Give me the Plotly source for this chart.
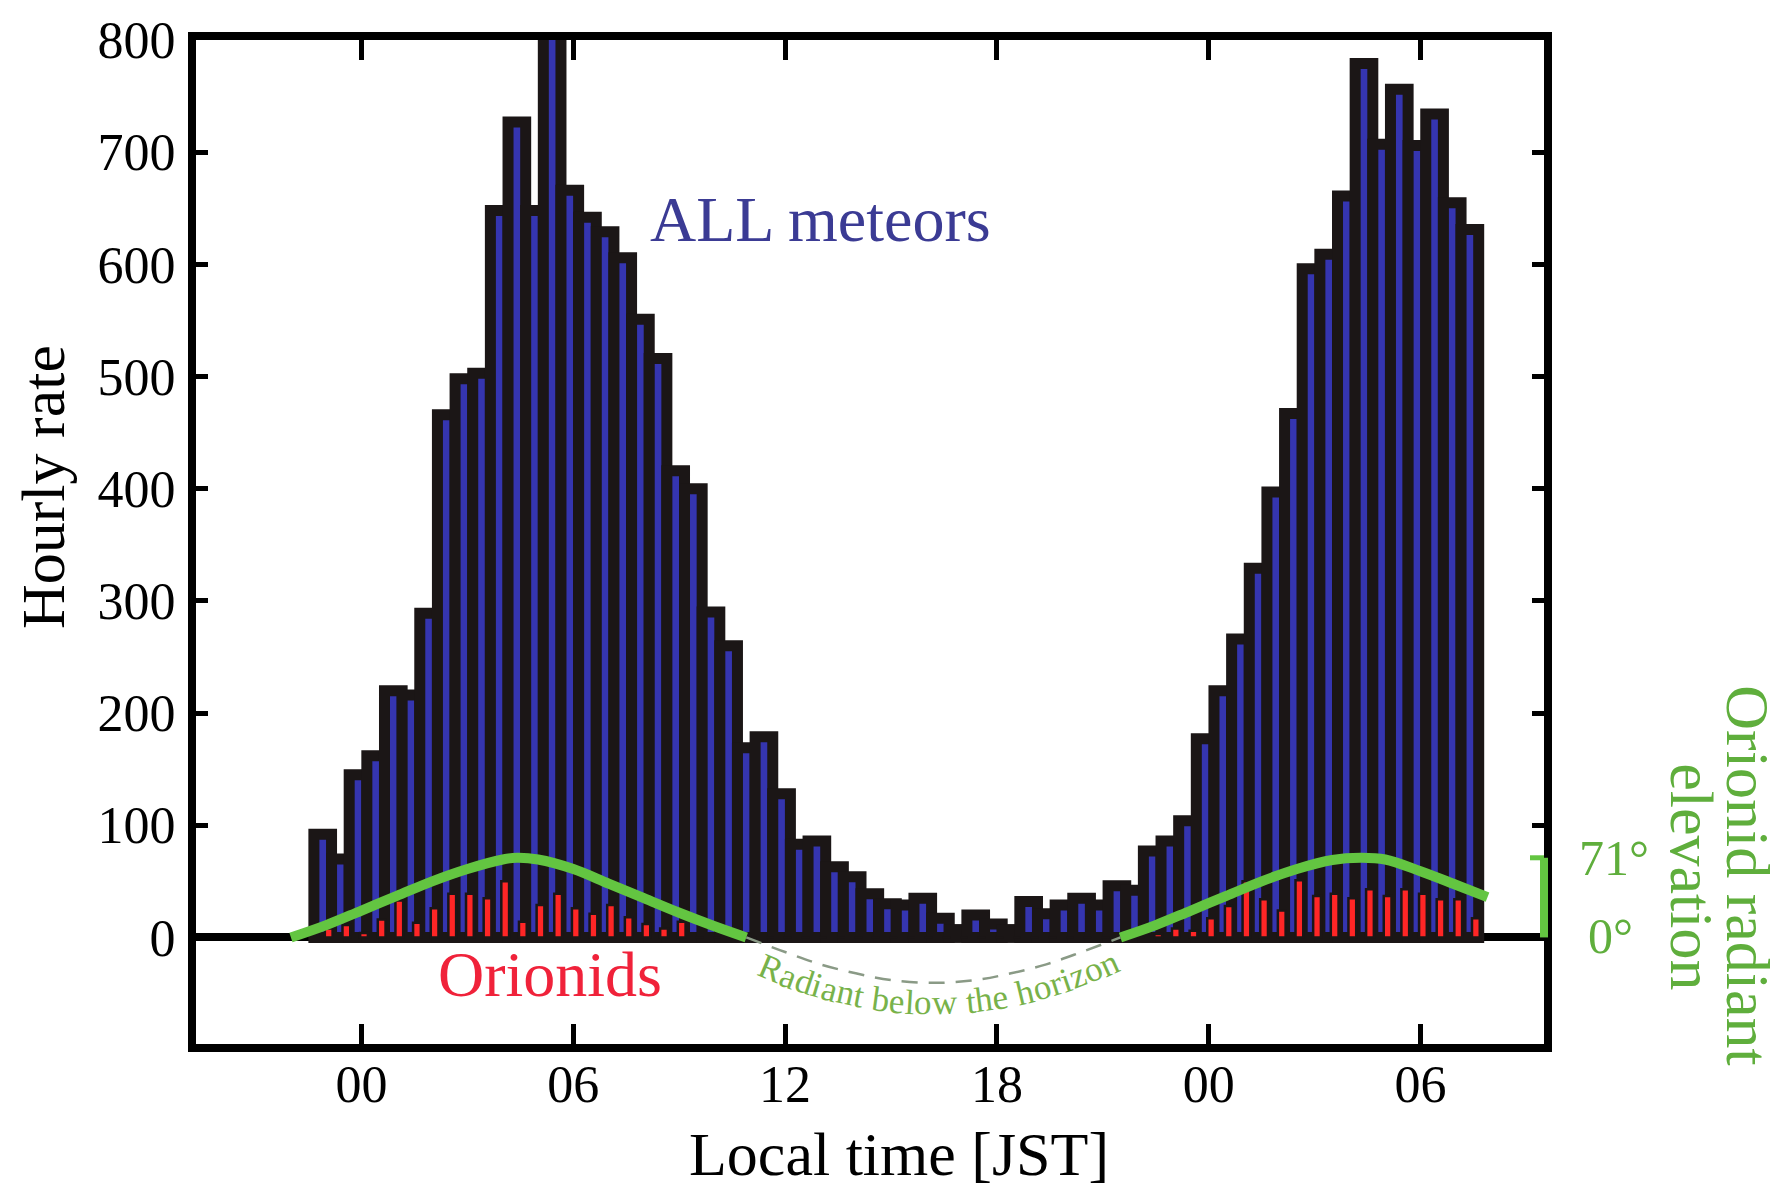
import numpy as np
import plotly.graph_objects as go

# ---------------------------------------------------------------------------
# Data: half-hour bins of local time (hours, JST; >24 = the following night)
# ---------------------------------------------------------------------------
bin_time = [-1.0 + 0.5 * i for i in range(66)]

# hourly rate of all meteors per half-hour bin
all_rate = [
    92, 70, 145, 162, 220, 216, 289, 466, 498, 503,
    648, 727, 648, 805, 666, 642, 629, 606, 551, 516,
    416, 400, 290, 260, 169, 179, 128, 83, 86, 63,
    54, 39, 30, 29, 35, 17, 7, 20, 12, 7,
    32, 21, 29, 35, 29, 46, 42, 77, 86, 104,
    177, 220, 266, 329, 397, 467, 596, 609, 661, 779,
    707, 756, 706, 734, 655, 631,
]

# hourly rate of Orionid meteors per half-hour bin
orionid_rate = [
    8, 11, 4, 16, 33, 13, 26, 39, 39, 35,
    50, 14, 29, 39, 26, 21, 29, 18, 12, 8,
    14, 0, 0, 0, 0, 0, 0, 0, 0, 0,
    0, 0, 0, 0, 0, 0, 0, 0, 0, 0,
    0, 0, 0, 0, 0, 0, 0, 3, 8, 6,
    17, 28, 50, 34, 24, 51, 37, 39, 35, 43,
    37, 43, 39, 34, 34, 17,
]

# Orionid radiant elevation (degrees), first night above the horizon
elev_night1_t = [-2.0, -1.0, 0.0, 1.0, 2.0, 3.0, 4.0, 4.4, 5.0, 6.0, 7.0, 8.0, 9.0, 10.0, 10.9]
elev_night1 = [0, 11, 24, 37, 50, 61, 69.5, 71, 69.5, 61, 48, 35, 22, 10, 0]

# radiant below the horizon during the day
elev_day_t = [10.9, 12.0, 13.0, 14.0, 15.0, 16.2, 17.4, 18.4, 19.4, 20.4, 21.5]
elev_day = [0, -13, -24, -32, -38, -40.5, -38, -32, -24, -13, 0]

# second night above the horizon
elev_night2_t = [21.5, 22.5, 23.5, 24.5, 25.5, 26.5, 27.5, 28.3, 29.0, 30.0, 31.0, 31.9]
elev_night2 = [0, 11, 24, 37, 50, 61, 69, 71, 69.5, 59, 47, 36]

x_tickvals = [0, 6, 12, 18, 24, 30]
x_ticktext = ["00", "06", "12", "18", "00", "06"]
y_tickvals = [0, 100, 200, 300, 400, 500, 600, 700, 800]

# ---------------------------------------------------------------------------
# Layout constants
# ---------------------------------------------------------------------------
W, H = 1782, 1189
ML, MR, MT, MB = 196, 238, 38, 145
X_RANGE = [-4.69, 33.50]
Y_RANGE = [-95, 800]
FONT = "Liberation Serif, Times New Roman, serif"

BLUE = "#3535b0"
EDGE = "#1b1616"
RED = "#ff2626"
GREEN = "#63c541"
GREEN_TXT = "#5fae3c"

fig = go.Figure()

# all meteors: wide bars with heavy dark outlines
fig.add_trace(go.Bar(
    x=bin_time, y=all_rate, width=0.5, offset=-0.35,
    marker=dict(color=BLUE, line=dict(color=EDGE, width=11)),
    hoverinfo="skip",
))

# Orionids: narrow bars
fig.add_trace(go.Bar(
    x=bin_time, y=orionid_rate, width=0.22, offset=-0.04,
    marker=dict(color=RED, line=dict(color=EDGE, width=2.5)),
    hoverinfo="skip",
))

# radiant elevation curve
for tx, ty in [(elev_night1_t, elev_night1), (elev_night2_t, elev_night2)]:
    fig.add_trace(go.Scatter(
        x=tx, y=ty, mode="lines",
        line=dict(color=GREEN, width=10, shape="spline"),
        hoverinfo="skip",
    ))
fig.add_trace(go.Scatter(
    x=elev_day_t, y=elev_day, mode="lines",
    line=dict(color="#8a9a86", width=2.5, dash="16px,11px", shape="spline"),
    hoverinfo="skip",
))

axis_common = dict(
    showline=True, linewidth=8, linecolor="black", mirror="ticks",
    ticks="inside", tickcolor="black", tickwidth=5,
    showgrid=False,
    tickfont=dict(family=FONT, size=52, color="black"),
)

fig.update_layout(
    width=W, height=H, autosize=False,
    margin=dict(l=ML, r=MR, t=MT, b=MB),
    paper_bgcolor="white", plot_bgcolor="white",
    barmode="overlay", showlegend=False,
    xaxis=dict(range=X_RANGE, tickvals=x_tickvals, ticktext=x_ticktext,
               ticklen=20, zeroline=False, ticklabelstandoff=-12, **axis_common),
    yaxis=dict(range=Y_RANGE, tickvals=y_tickvals, ticklen=12,
               zeroline=True, zerolinecolor="black", zerolinewidth=8,
               ticklabelstandoff=2, **axis_common),
)

plot_w = W - ML - MR
plot_h = H - MT - MB

annotations = [
    dict(text="Hourly rate", xref="paper", yref="paper",
         x=(43 - ML) / plot_w, y=1 - (486 - MT) / plot_h, textangle=-90,
         showarrow=False, xanchor="center", yanchor="middle",
         font=dict(family=FONT, size=62, color="black")),
    dict(text="Local time [JST]", xref="paper", yref="paper",
         x=(899 - ML) / plot_w, y=-(1154 - (H - MB)) / plot_h,
         showarrow=False, xanchor="center", yanchor="middle",
         font=dict(family=FONT, size=62, color="black")),
    dict(text="ALL meteors", xref="x", yref="y", x=13.0, y=640,
         showarrow=False, xanchor="center", yanchor="middle",
         font=dict(family=FONT, size=64, color="#3b3b94")),
    dict(text="Orionids", xref="x", yref="y", x=5.34, y=-33,
         showarrow=False, xanchor="center", yanchor="middle",
         font=dict(family=FONT, size=64, color="#f0223a")),
    dict(text="71°", xref="paper", yref="y", x=(1614 - ML) / plot_w, y=71,
         showarrow=False, xanchor="center", yanchor="middle",
         font=dict(family=FONT, size=50, color=GREEN_TXT)),
    dict(text="0°", xref="paper", yref="y", x=(1610 - ML) / plot_w, y=1,
         showarrow=False, xanchor="center", yanchor="middle",
         font=dict(family=FONT, size=50, color=GREEN_TXT)),
    dict(text="Orionid radiant", xref="paper", yref="paper",
         x=(1748 - ML) / plot_w, y=1 - (875 - MT) / plot_h, textangle=90,
         showarrow=False, xanchor="center", yanchor="middle",
         font=dict(family=FONT, size=62, color=GREEN_TXT)),
    dict(text="elevation", xref="paper", yref="paper",
         x=(1692 - ML) / plot_w, y=1 - (877 - MT) / plot_h, textangle=90,
         showarrow=False, xanchor="center", yanchor="middle",
         font=dict(family=FONT, size=62, color=GREEN_TXT)),
]

# "Radiant below the horizon" set letter by letter along an arc under the dashed curve
label = "Radiant below the horizon"
em = {"R": .667, "a": .444, "d": .5, "i": .278, "n": .5, "t": .278, " ": .25,
      "b": .5, "e": .444, "l": .278, "o": .5, "w": .722, "h": .5, "r": .333, "z": .444}
px_hr = plot_w / (X_RANGE[1] - X_RANGE[0])
px_unit = plot_h / (Y_RANGE[1] - Y_RANGE[0])
coef = np.polyfit(elev_day_t, elev_day, 2)
xs = np.linspace(11.0, 21.6, 600)
ys = np.polyval(coef, xs) - 19.0
X = xs * px_hr
Y = ys * px_unit
s = np.concatenate([[0], np.cumsum(np.hypot(np.diff(X), np.diff(Y)))])
s_start = np.interp(11.3, xs, s)
s_end = np.interp(21.4, xs, s)
adv = np.array([em.get(c, 0.5) for c in label])
scale = (s_end - s_start) / adv.sum()
pos = s_start + (np.cumsum(adv) - adv / 2) * scale
for ch, sc in zip(label, pos):
    if ch == " ":
        continue
    cx = np.interp(sc, s, xs)
    cy = np.interp(sc, s, ys)
    k = np.searchsorted(s, sc)
    k = min(max(k, 1), len(s) - 1)
    ang = np.degrees(np.arctan2(Y[k] - Y[k - 1], X[k] - X[k - 1]))
    annotations.append(dict(
        text=ch, xref="x", yref="y", x=float(cx), y=float(cy),
        textangle=float(-ang), showarrow=False,
        xanchor="center", yanchor="middle",
        font=dict(family=FONT, size=35, color="#78b24a"),
    ))

fig.update_layout(annotations=annotations)

# elevation scale bar on the right-hand axis (0 to 71 degrees)
fig.add_shape(type="line", xref="paper", yref="y", x0=1.0, x1=1.0, y0=0, y1=71,
              line=dict(color=GREEN, width=8), layer="above")
fig.add_shape(type="line", xref="paper", yref="y", x0=1.0 - 14 / plot_w, x1=1.0, y0=71, y1=71,
              line=dict(color=GREEN, width=5), layer="above")

fig.write_html("out.html")
